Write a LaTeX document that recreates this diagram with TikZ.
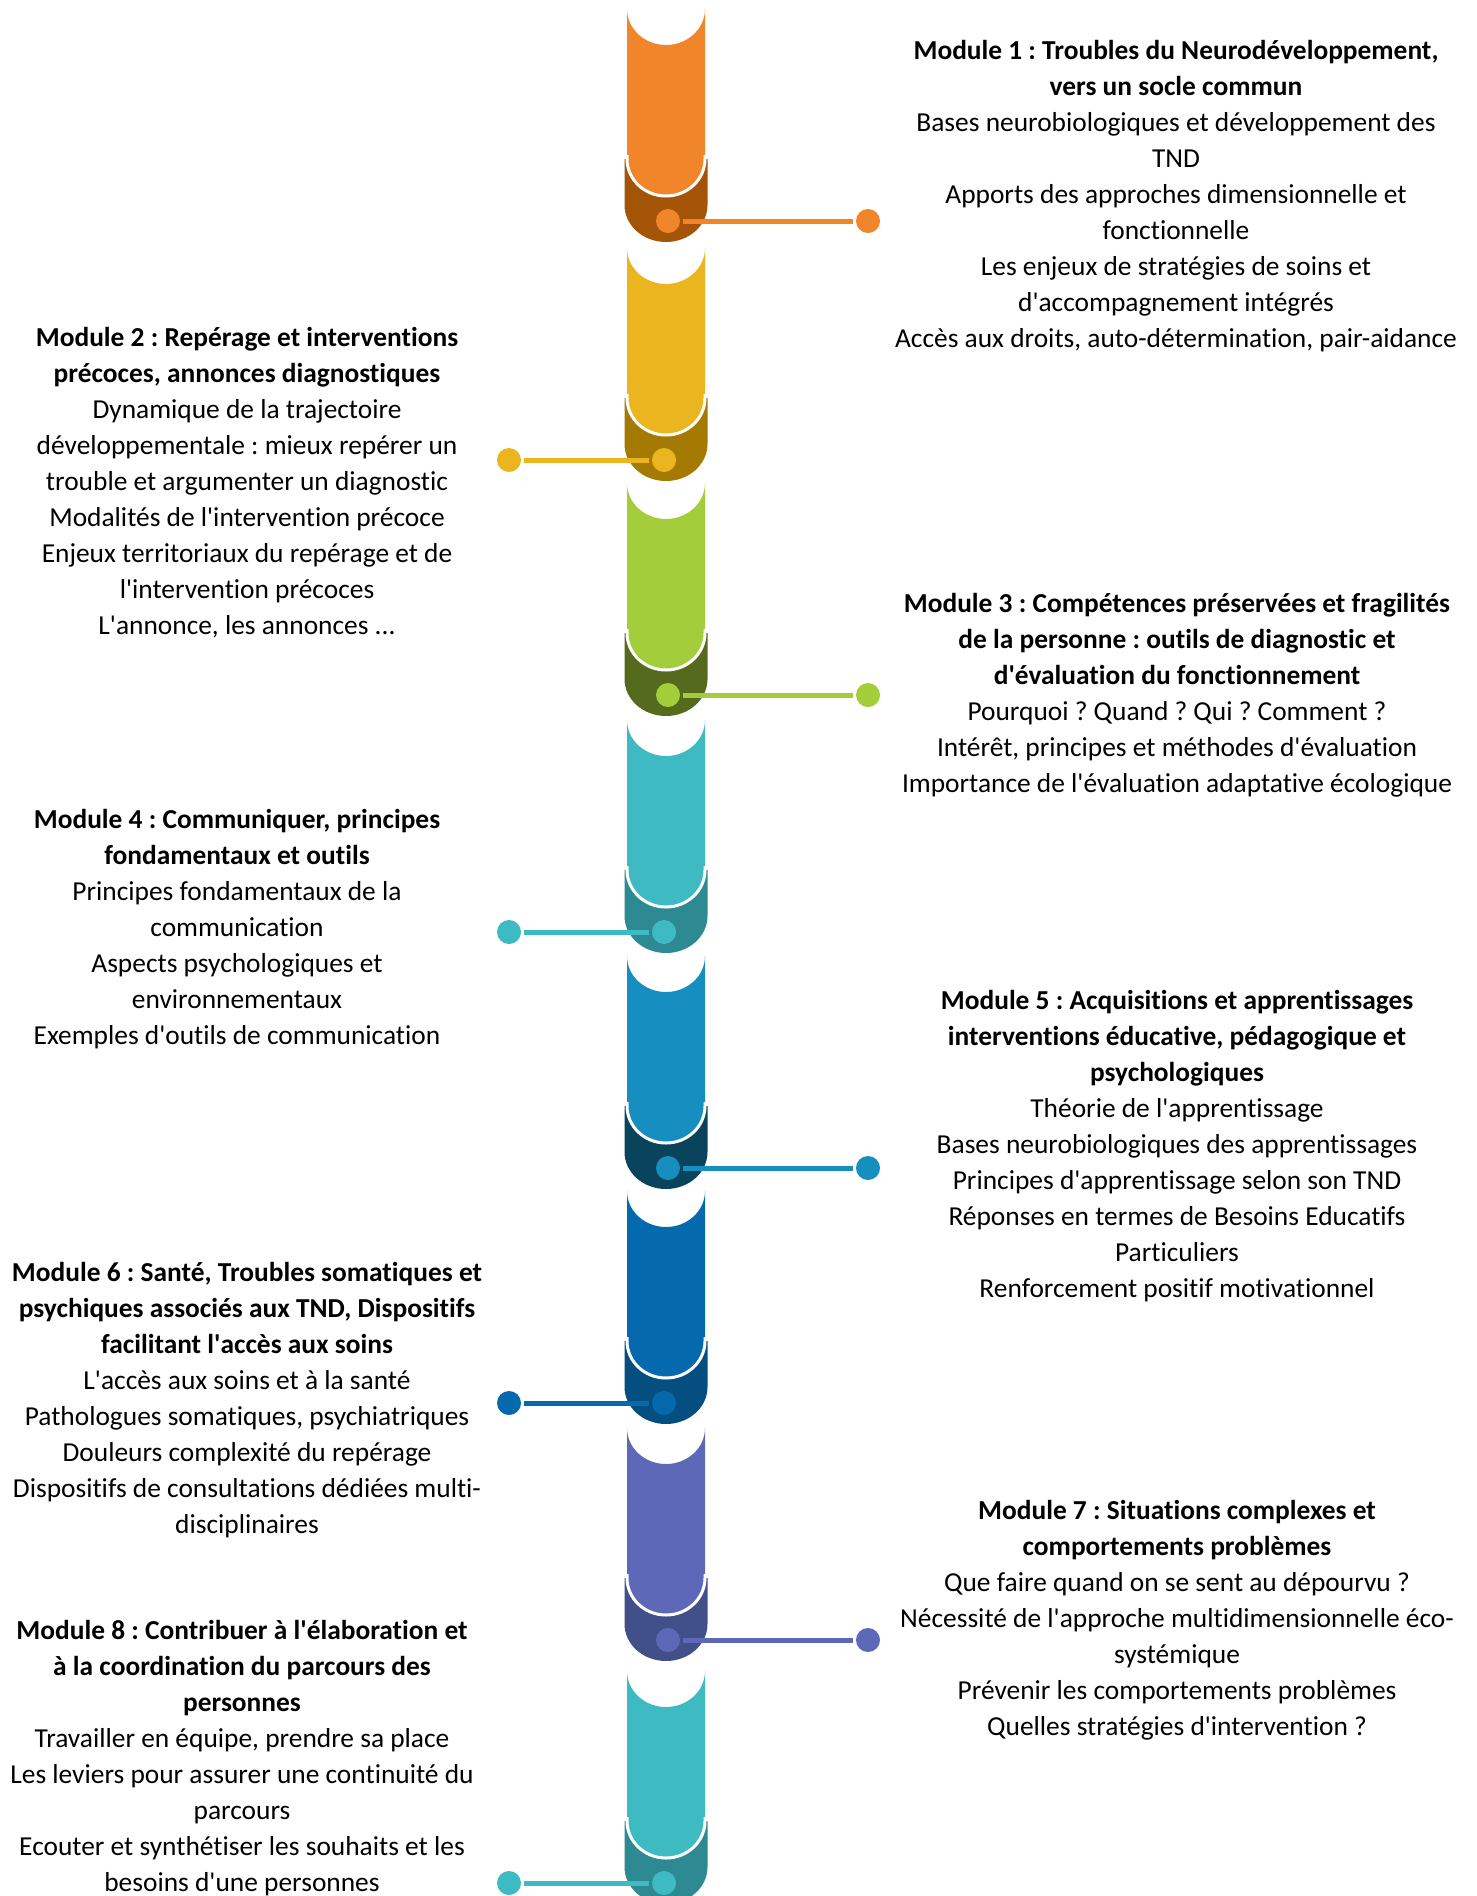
\documentclass[tikz,border=0pt]{standalone}
\usepackage{fontspec}
\setmainfont{Carlito}[Ligatures={TeX,NoCommon}]
\newcommand\qq{\textquotesingle}
\frenchspacing
\definecolor{c1}{HTML}{F0852A}\definecolor{k1}{HTML}{A45407}
\definecolor{c2}{HTML}{EBB51F}\definecolor{k2}{HTML}{A57A02}
\definecolor{c3}{HTML}{A3CD3A}\definecolor{k3}{HTML}{556A1C}
\definecolor{c4}{HTML}{3DBAC2}\definecolor{k4}{HTML}{2E8A92}
\definecolor{c5}{HTML}{168EC0}\definecolor{k5}{HTML}{0A435C}
\definecolor{c6}{HTML}{0569AE}\definecolor{k6}{HTML}{054E80}
\definecolor{c7}{HTML}{5D69B8}\definecolor{k7}{HTML}{42508A}
\definecolor{c8}{HTML}{3DBAC2}\definecolor{k8}{HTML}{2E8A92}
% segment: #1 dot y, #2 main colour, #3 dark colour
\newcommand\mseg[3]{%
  \fill[#3] (624.5,#1-62) -- (624.5,#1-16)
     arc[start angle=180,end angle=0,x radius=41.5,y radius=37]
     -- (707.5,#1-62) -- cycle;
  \fill[#2] (627,#1-212) -- (627,#1-62)
     arc[start angle=180,end angle=0,x radius=39,y radius=37]
     -- (705,#1-212)
     arc[start angle=0,end angle=180,x radius=39,y radius=36] -- cycle;
  \draw[white,line width=3pt] (627,#1-66) -- (627,#1-62)
     arc[start angle=180,end angle=0,x radius=39,y radius=37] -- (705,#1-66);
}
\tikzset{
  dot/.style={circle,fill=#1,minimum size=24pt,inner sep=0pt},
  conn/.style={draw=#1,line width=5pt,shorten <=3pt,shorten >=3pt},
  mtext/.style={align=center,inner sep=0pt,text=black,
    font=\fontsize{27.4}{36}\selectfont\frenchspacing},
}
\begin{document}
\begin{tikzpicture}[x=1pt,y=-1pt]
\useasboundingbox (0,0) rectangle (1476,1896);
\clip (0,0) rectangle (1476,1896);
\fill[white] (0,0) rectangle (1476,1896);

\mseg{221}{c1}{k1}
\mseg{460}{c2}{k2}
\mseg{695}{c3}{k3}
\mseg{932}{c4}{k4}
\mseg{1168}{c5}{k5}
\mseg{1403}{c6}{k6}
\mseg{1640}{c7}{k7}
\mseg{1883}{c8}{k8}

% dots and connectors
\node[dot=c1] (i1) at (668,221) {};  \node[dot=c1] (o1) at (868,221) {};
\node[dot=c2] (i2) at (664,460) {};  \node[dot=c2] (o2) at (509,460) {};
\node[dot=c3] (i3) at (668,695) {};  \node[dot=c3] (o3) at (868,695) {};
\node[dot=c4] (i4) at (664,932) {};  \node[dot=c4] (o4) at (509,932) {};
\node[dot=c5] (i5) at (668,1168) {}; \node[dot=c5] (o5) at (868,1168) {};
\node[dot=c6] (i6) at (664,1403) {}; \node[dot=c6] (o6) at (509,1403) {};
\node[dot=c7] (i7) at (668,1640) {}; \node[dot=c7] (o7) at (868,1640) {};
\node[dot=c8] (i8) at (664,1883) {}; \node[dot=c8] (o8) at (509,1883) {};
\draw[conn=c1] (i1) -- (o1);
\draw[conn=c2] (i2) -- (o2);
\draw[conn=c3] (i3) -- (o3);
\draw[conn=c4] (i4) -- (o4);
\draw[conn=c5] (i5) -- (o5);
\draw[conn=c6] (i6) -- (o6);
\draw[conn=c7] (i7) -- (o7);
\draw[conn=c8] (i8) -- (o8);

% texts
\node[mtext] (t1) at (1176,196) {\textbf{Module 1 : Troubles du Neurodéveloppement,}\\\textbf{vers un socle commun}\\Bases neurobiologiques et développement des\\TND\\Apports des approches dimensionnelle et\\fonctionnelle\\Les enjeux de stratégies de soins et\\d\qq accompagnement intégrés\\Accès aux droits, auto-détermination, pair-aidance};

\node[mtext] (t2) at (247,483) {\textbf{Module 2 : Repérage et interventions}\\\textbf{précoces, annonces diagnostiques}\\Dynamique de la trajectoire\\développementale : mieux repérer un\\trouble et argumenter un diagnostic\\Modalités de l\qq intervention précoce\\Enjeux territoriaux du repérage et de\\l\qq intervention précoces\\L\qq annonce, les annonces ...};

\node[mtext] (t3) at (1177,695) {\textbf{Module 3 : Compétences préservées et fragilités}\\\textbf{de la personne : outils de diagnostic et}\\\textbf{d\qq évaluation du fonctionnement}\\Pourquoi ? Quand ? Qui ? Comment ?\\Intérêt, principes et méthodes d\qq évaluation\\Importance de l\qq évaluation adaptative écologique};

\node[mtext] (t4) at (237,929) {\textbf{Module 4 : Communiquer, principes}\\\textbf{fondamentaux et outils}\\Principes fondamentaux de la\\communication\\Aspects psychologiques et\\environnementaux\\Exemples d\qq outils de communication};

\node[mtext] (t5) at (1177,1146) {\textbf{Module 5 : Acquisitions et apprentissages}\\\textbf{interventions éducative, pédagogique et}\\\textbf{psychologiques}\\Théorie de l\qq apprentissage\\Bases neurobiologiques des apprentissages\\Principes d\qq apprentissage selon son TND\\Réponses en termes de Besoins Educatifs\\Particuliers\\Renforcement positif motivationnel};

\node[mtext] (t6) at (247,1400) {\textbf{Module 6 : Santé, Troubles somatiques et}\\\textbf{psychiques associés aux TND, Dispositifs}\\\textbf{facilitant l\qq accès aux soins}\\L\qq accès aux soins et à la santé\\Pathologues somatiques, psychiatriques\\Douleurs complexité du repérage\\Dispositifs de consultations dédiées multi-\\disciplinaires};

\node[mtext] (t7) at (1177,1620) {\textbf{Module 7 : Situations complexes et}\\\textbf{comportements problèmes}\\Que faire quand on se sent au dépourvu ?\\Nécessité de l\qq approche multidimensionnelle éco-\\systémique\\Prévenir les comportements problèmes\\Quelles stratégies d\qq intervention ?};

\node[mtext] (t8) at (242,1758) {\textbf{Module 8 : Contribuer à l\qq élaboration et}\\\textbf{à la coordination du parcours des}\\\textbf{personnes}\\Travailler en équipe, prendre sa place\\Les leviers pour assurer une continuité du\\parcours\\Ecouter et synthétiser les souhaits et les\\besoins d\qq une personnes};
\end{tikzpicture}
\end{document}
